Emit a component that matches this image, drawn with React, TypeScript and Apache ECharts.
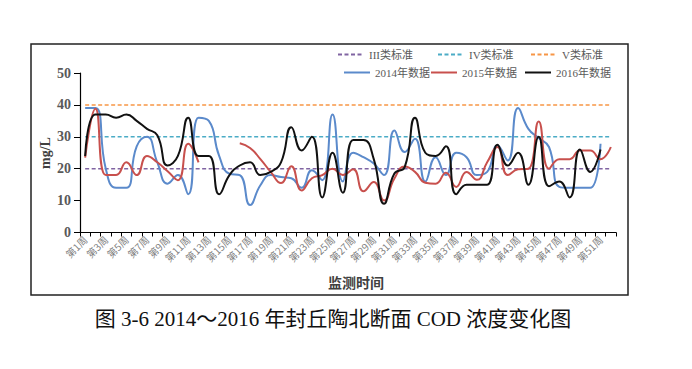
import React, { useEffect, useRef } from "react";
import * as echarts from "echarts";

const weeks: string[] = Array.from({ length: 52 }, (_, i) => `第${i + 1}周`);

const data2014: (number | null)[] = [
  39, 39, 20, 14, 14, 27, 30, 22, 15.3, 18, 12, 36, 35,
  24, 18.4, 18, 8.6, 14.8, 18, 17.4, 17, 14, 19.5, 16.4, 37, 16,
  25, 23.6, 21.6, 18, 32, 25.2, 29.4, 16, 23.6, 18, 25, 23.6, 18,
  19, 27.3, 22.6, 39, 32.5, 29.6, 26.8, 14.3, 14, 14, 14, 27.8, null,
];
const data2015: (number | null)[] = [
  23.5, 38.8, 18, 18, 22, 18, 24, 22, 19.2, 16.4, 27.8, 22, null,
  null, null, 28, 26.5, 23, 19, 15.5, 20.8, 13.2, 17, 18, 20, 18,
  19.8, 12.9, 15.8, 10, 16.9, 20.7, 19, 15.6, 15.3, 18.75, 14.3, 19, 16.5,
  22, 26.8, 18, 19.8, 20, 34.8, 20, 23, 23, 25.7, 25.7, 23, 26.8,
];
const data2016: (number | null)[] = [
  24, 37, 37, 36, 37, 35, 32.5, 30.5, 21, 24, 36, 24, 24,
  12, 18, 21, 22, 18, 19, 22, 33, 25.7, 30, 11, 25, 12.5,
  29, 29, 23, 9, 18.5, 20.5, 36, 25, 24, 27, 12, 15, 15,
  15, 27.5, 21, 25, 15, 30, 14.5, 16, 11, 26, 19, 26, null,
];
const standardIII = 20;
const standardIV = 30;
const standardV = 40;
const yTicks = { min: 0, max: 50, interval: 10 };

const serifCJK = "'Liberation Serif','Noto Sans CJK SC'";

export default function App() {
  const ref = useRef<HTMLDivElement>(null);
  useEffect(() => {
    const chart = echarts.init(ref.current!, null, { renderer: "svg" });
    const legendText = {
      fontSize: 11,
      color: "#595959",
      fontFamily: serifCJK,
    };
    const mkLegend = (name: string, left: number, top: number) => ({
      data: [name],
      left,
      top,
      itemWidth: 26,
      itemHeight: 10,
      itemGap: 0,
      padding: 0,
      selectedMode: false,
      itemStyle: { opacity: 0 },
      textStyle: legendText,
    });
    const stdSeries = (name: string, value: number, color: string) => ({
      name,
      type: "line",
      data: weeks.map(() => value),
      symbol: "none",
      lineStyle: { color, width: 1.5, type: [4, 2.5] },
      itemStyle: { color },
      z: 1,
    });
    const dataSeries = (name: string, data: (number | null)[], color: string) => ({
      name,
      type: "line",
      data,
      smooth: 0.5,
      symbol: "none",
      connectNulls: false,
      lineStyle: { color, width: 2 },
      itemStyle: { color },
      z: 3,
    });
    chart.setOption({
      animation: false,
      backgroundColor: "#ffffff",
      grid: { left: 80, top: 73, width: 536, height: 159.5, containLabel: false },
      legend: [
        mkLegend("III类标准", 337, 49),
        mkLegend("IV类标准", 437, 49),
        mkLegend("V类标准", 530, 49),
        mkLegend("2014年数据", 343, 67),
        mkLegend("2015年数据", 430, 67),
        mkLegend("2016年数据", 524, 67),
      ],
      xAxis: {
        type: "category",
        data: weeks,
        boundaryGap: true,
        axisLine: { lineStyle: { color: "#000", width: 1.2 } },
        axisTick: { show: true, interval: 0, length: 4, lineStyle: { color: "#000" } },
        axisLabel: {
          interval: 1,
          rotate: 45,
          fontSize: 10,
          color: "#7f7f7f",
          fontFamily: "'Noto Sans CJK SC'",
          margin: 5,
        },
        splitLine: { show: false },
      },
      yAxis: {
        type: "value",
        min: yTicks.min,
        max: yTicks.max,
        interval: yTicks.interval,
        axisLine: { show: true, lineStyle: { color: "#000", width: 1.2 } },
        axisTick: { show: true, length: 6, lineStyle: { color: "#000" } },
        axisLabel: {
          fontSize: 14,
          fontWeight: "bold",
          color: "#595959",
          fontFamily: "'Liberation Serif'",
          margin: 9,
        },
        splitLine: { show: false },
      },
      graphic: [
        {
          type: "rect",
          shape: { x: 31, y: 44, width: 597, height: 251 },
          style: { fill: "none", stroke: "#222", lineWidth: 1.5 },
          silent: true,
          z: 0,
        },
        {
          type: "text",
          x: 45,
          y: 153,
          rotation: Math.PI / 2,
          style: {
            text: "mg/L",
            fontSize: 14,
            fontWeight: "bold",
            fill: "#404040",
            fontFamily: "'Liberation Serif'",
            align: "center",
            verticalAlign: "middle",
          },
        },
        {
          type: "text",
          x: 356,
          y: 282,
          style: {
            text: "监测时间",
            fontSize: 14,
            fontWeight: "bold",
            fill: "#404040",
            fontFamily: "'Noto Sans CJK SC'",
            align: "center",
            verticalAlign: "middle",
          },
        },
        {
          type: "text",
          x: 333,
          y: 319,
          style: {
            text: "图 3-6 2014～2016 年封丘陶北断面 COD 浓度变化图",
            fontSize: 21,
            fill: "#111",
            fontFamily: serifCJK,
            align: "center",
            verticalAlign: "middle",
          },
        },
      ],
      series: [
        stdSeries("III类标准", standardIII, "#8064A2"),
        stdSeries("IV类标准", standardIV, "#4BACC6"),
        stdSeries("V类标准", standardV, "#F79646"),
        dataSeries("2014年数据", data2014, "#5B8ACB"),
        dataSeries("2015年数据", data2015, "#C8504D"),
        dataSeries("2016年数据", data2016, "#111111"),
      ],
    });
    return () => chart.dispose();
  }, []);
  return (
    <div
      ref={ref}
      style={{ position: "absolute", left: 0, top: 0, width: 692, height: 369, background: "#fff" }}
    />
  );
}
